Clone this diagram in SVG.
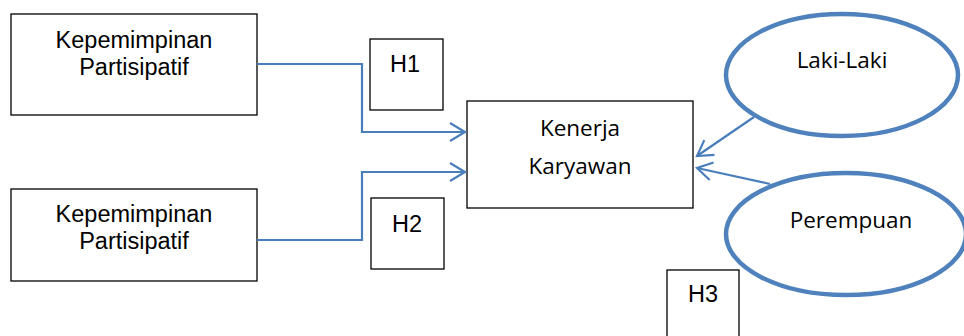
<svg xmlns="http://www.w3.org/2000/svg" width="964" height="336" viewBox="0 0 964 336">
<style>
.box{fill:#fff;stroke:#000;stroke-width:1.3}
.ell{fill:#fff;stroke:#4f81bd;stroke-width:4.5}
.con{fill:none;stroke:#4a7ebb;stroke-width:2.2}
.ta{font-family:"Liberation Sans",Arial,sans-serif;font-size:23.5px;fill:#000;text-anchor:middle}
.tc{font-family:"Open Sans","Noto Sans",sans-serif;font-size:22.5px;fill:#000;text-anchor:middle}
</style>
<defs>
<marker id="arr" markerWidth="20" markerHeight="20" refX="17" refY="10" orient="auto" markerUnits="userSpaceOnUse">
<path d="M2,1 L17,10 L2,19" fill="none" stroke="#4a7ebb" stroke-width="2.2"/>
</marker>
</defs>
<g id="n-kp1"><rect class="box" x="11" y="14" width="246" height="101"/><text class="ta" x="134" y="48">Kepemimpinan</text><text class="ta" x="134" y="75">Partisipatif</text></g>
<g id="n-kp2"><rect class="box" x="11" y="189" width="246" height="92"/><text class="ta" x="134" y="222">Kepemimpinan</text><text class="ta" x="134" y="249">Partisipatif</text></g>
<g id="n-h1"><rect class="box" x="370" y="39" width="73" height="71"/><text class="ta" x="405" y="72">H1</text></g>
<g id="n-h2"><rect class="box" x="371" y="198" width="73" height="71"/><text class="ta" x="407" y="232">H2</text></g>
<g id="n-h3"><rect class="box" x="667" y="270" width="72" height="80"/><text class="ta" x="703" y="302">H3</text></g>
<g id="n-kk"><rect class="box" x="467" y="101" width="226" height="107"/><text class="tc" x="580" y="136">Kenerja</text><text class="tc" x="580" y="174">Karyawan</text></g>
<g id="n-ll"><ellipse class="ell" cx="842" cy="75" rx="116" ry="61"/><text class="tc" x="842" y="68">Laki-Laki</text></g>
<g id="n-pr"><ellipse class="ell" cx="846" cy="234" rx="120" ry="61"/><text class="tc" x="851" y="228">Perempuan</text></g>
<g id="connectors">
<path class="con" d="M257,64 H362 V132 H465" marker-end="url(#arr)"/>
<path class="con" d="M257,240 H362 V172 H465" marker-end="url(#arr)"/>
<path class="con" d="M754,117 L697,156" marker-end="url(#arr)"/>
<path class="con" d="M770,184 L697,168" marker-end="url(#arr)"/>
</g>
</svg>
